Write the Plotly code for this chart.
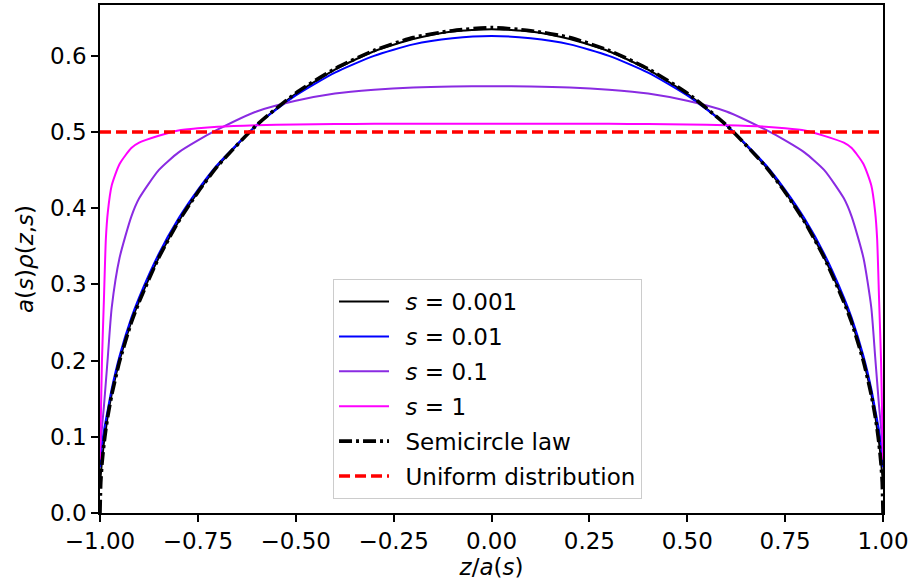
import plotly.graph_objects as go

# z/a(s) sample positions
z = [-1.0, -0.998, -0.995, -0.99, -0.985, -0.98, -0.97, -0.95, -0.92, -0.9, -0.85, -0.8, -0.75, -0.7,
     -0.6, -0.5, -0.4, -0.3, -0.2, -0.1, 0.0,
     0.1, 0.2, 0.3, 0.4, 0.5, 0.6, 0.7, 0.75, 0.8, 0.85, 0.9, 0.92, 0.95, 0.97, 0.98, 0.985, 0.99, 0.995, 0.998, 1.0]

rho_s0001 = [0.040, 0.050, 0.068, 0.092, 0.110, 0.128, 0.156, 0.200, 0.251, 0.278, 0.335, 0.382, 0.421, 0.455,
             0.509, 0.550, 0.582, 0.606, 0.622, 0.632, 0.635,
             0.632, 0.622, 0.606, 0.582, 0.550, 0.509, 0.455, 0.421, 0.382, 0.335, 0.278, 0.251, 0.200, 0.156, 0.128, 0.110, 0.092, 0.068, 0.050, 0.040]

rho_s001 = [0.060, 0.075, 0.090, 0.108, 0.122, 0.136, 0.163, 0.206, 0.256, 0.283, 0.340, 0.386, 0.424, 0.457,
            0.509, 0.548, 0.578, 0.600, 0.615, 0.623, 0.626,
            0.623, 0.615, 0.600, 0.578, 0.548, 0.509, 0.457, 0.424, 0.386, 0.340, 0.283, 0.256, 0.206, 0.163, 0.136, 0.122, 0.108, 0.090, 0.075, 0.060]

rho_s01 = [0.080, 0.095, 0.112, 0.140, 0.172, 0.205, 0.270, 0.335, 0.389, 0.413, 0.450, 0.473, 0.489, 0.503,
           0.527, 0.541, 0.5505, 0.5555, 0.5585, 0.5598, 0.560,
           0.5598, 0.5585, 0.5555, 0.5505, 0.541, 0.527, 0.503, 0.489, 0.473, 0.450, 0.413, 0.389, 0.335, 0.270, 0.205, 0.172, 0.140, 0.112, 0.095, 0.080]

rho_s1 = [0.070, 0.120, 0.200, 0.280, 0.360, 0.395, 0.430, 0.458, 0.479, 0.486, 0.495, 0.502, 0.505, 0.507,
          0.509, 0.5100, 0.5105, 0.5108, 0.511, 0.511, 0.511,
          0.511, 0.511, 0.5108, 0.5105, 0.5100, 0.509, 0.507, 0.505, 0.502, 0.495, 0.486, 0.479, 0.458, 0.430, 0.395, 0.360, 0.280, 0.200, 0.120, 0.070]

rho_semicircle = [0.000, 0.040, 0.064, 0.090, 0.110, 0.127, 0.155, 0.199, 0.250, 0.277, 0.335, 0.382, 0.421, 0.455,
                  0.509, 0.551, 0.583, 0.607, 0.624, 0.633, 0.637,
                  0.633, 0.624, 0.607, 0.583, 0.551, 0.509, 0.455, 0.421, 0.382, 0.335, 0.277, 0.250, 0.199, 0.155, 0.127, 0.110, 0.090, 0.064, 0.040, 0.000]

z_uniform = [-1.0, 1.0]
rho_uniform = [0.5, 0.5]

x_ticks = [-1.0, -0.75, -0.5, -0.25, 0.0, 0.25, 0.5, 0.75, 1.0]
y_ticks = [0.0, 0.1, 0.2, 0.3, 0.4, 0.5, 0.6]

FONT = "DejaVu Sans"
FS = 23

fig = go.Figure()

def add(x, y, name, color, width, dash="solid"):
    fig.add_trace(go.Scatter(
        x=x, y=y, mode="lines", name="\u2002" + name, legendgroup=name,
        line=dict(color=color, width=width, dash=dash, shape="spline", smoothing=0.6),
    ))

add(z, rho_s0001, "<i>s</i> = 0.001", "black", 2.0)
add(z, rho_s001, "<i>s</i> = 0.01", "blue", 2.0)
add(z, rho_s01, "<i>s</i> = 0.1", "#8A2BE2", 2.0)
add(z, rho_s1, "<i>s</i> = 1", "magenta", 2.0)
add(z, rho_semicircle, "Semicircle law", "black", 3.6, dash="13px,4px,3px,4px")
add(z_uniform, rho_uniform, "Uniform distribution", "red", 3.6, dash="11px,5px")

axis_common = dict(
    showgrid=False, zeroline=False, showline=True, mirror=True,
    linecolor="black", linewidth=1.6,
    ticks="outside", ticklen=7, tickwidth=1.6, tickcolor="black",
    tickfont=dict(family=FONT, size=FS, color="black"),
)

fig.update_layout(
    width=914, height=584,
    margin=dict(l=100, r=31, t=3, b=71),
    plot_bgcolor="white", paper_bgcolor="white",
    font=dict(family=FONT, size=FS, color="black"),
    xaxis=dict(range=[-1, 1], tickvals=x_ticks, tickformat=".2f",
               title=dict(text="<i>z</i>/<i>a</i>(<i>s</i>)", font=dict(family=FONT, size=FS), standoff=2),
               **axis_common),
    yaxis=dict(range=[0, 0.6667], tickvals=y_ticks, tickformat=".1f",
               title=dict(text="<i>a</i>(<i>s</i>)<i>ρ</i>(<i>z</i>,<i>s</i>)", font=dict(family=FONT, size=FS), standoff=10),
               **axis_common),
    legend=dict(
        x=0.2976, y=0.0275, xanchor="left", yanchor="bottom",
        bgcolor="white", bordercolor="#cccccc", borderwidth=1,
        font=dict(family=FONT, size=FS, color="black"),
        traceorder="grouped", tracegroupgap=2, itemwidth=50,
    ),
    showlegend=True,
)

fig.write_html("out.html", config={"displayModeBar": False},
               post_script="document.body.style.margin='0';document.body.style.overflow='hidden';")
